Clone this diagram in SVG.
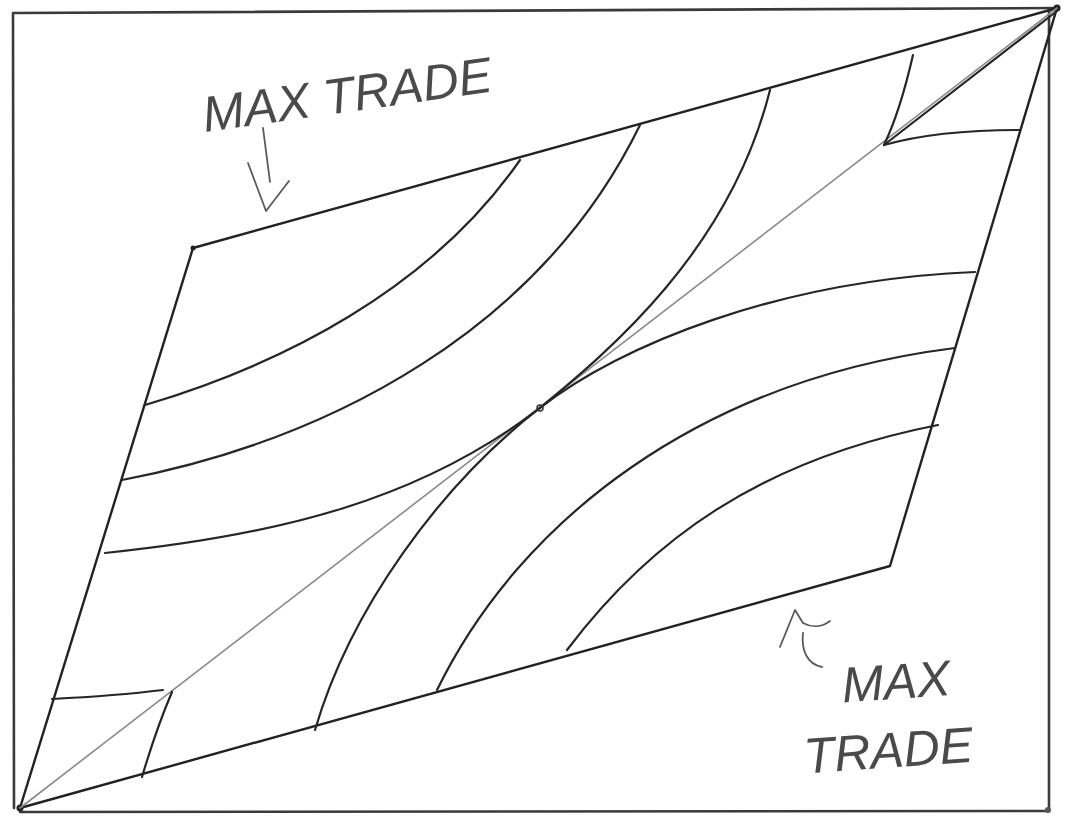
<svg xmlns="http://www.w3.org/2000/svg" width="1067" height="823" viewBox="0 0 1067 823">
<style>
.frame{fill:none;stroke:#3a3a3a;stroke-width:2.6;stroke-linecap:round}
.edge{fill:none;stroke:#222;stroke-width:2.4;stroke-linecap:round;stroke-linejoin:round}
.curve{fill:none;stroke:#262626;stroke-width:2.2;stroke-linecap:round}
.diag{fill:none;stroke:#8a8a8a;stroke-width:1.6;stroke-linecap:round}
.pencil{fill:none;stroke:#5a5a5a;stroke-width:1.8;stroke-linecap:round;stroke-linejoin:round}
.hand{font-family:"Liberation Sans",Arial,sans-serif;font-style:italic;fill:#4a4a4a;font-weight:normal}
</style>
<rect width="1067" height="823" fill="#ffffff"/>
<g id="frame">
<path class="frame" d="M13,13 L1057,8 M13,13 L14,808 M20,812 L1048,811 M1049,10 L1049,808"/>
<circle cx="1048" cy="810" r="3" fill="#555"/>
</g>
<g id="box">
<path class="edge" d="M20,808 L193,248 L1057,8 L890,566 Z"/>
<circle cx="20" cy="808" r="3.5" fill="#222"/>
<circle cx="1057" cy="8" r="3.5" fill="#222"/>
<circle cx="193" cy="248" r="2.5" fill="#222"/>
</g>
<g id="connectors">
<path class="diag" d="M20,808 L1057,8"/>
<path class="curve" d="M1057,11 L884,145"/>
<path class="curve" d="M145,405 C280,365 430,290 520,160"/>
<path class="curve" d="M122,480 C330,440 540,330 640,125"/>
<path class="curve" d="M105,553 C280,535 420,500 540,408 C610,350 730,250 770,90"/>
<path class="curve" d="M913,55 C905,90 896,120 884,145"/>
<path class="curve" d="M567,650 C650,540 760,460 938,425"/>
<path class="curve" d="M437,690 C520,520 700,380 955,348"/>
<path class="curve" d="M315,730 C350,610 440,485 540,408 C620,345 780,280 975,272"/>
<path class="curve" d="M884,145 C930,132 980,130 1020,130"/>
<path class="curve" d="M52,699 C90,697 130,694 163,690"/>
<path class="curve" d="M172,692 C160,720 150,750 142,777"/>
<circle cx="540" cy="408" r="3" fill="none" stroke="#333" stroke-width="1.5"/>
</g>
<g id="label-top">
<text class="hand" x="205" y="132" font-size="50" transform="rotate(-8 205 132)">MAX TRADE</text>
<path class="pencil" d="M263,128 L270,182 M248,163 L266,211 L289,181"/>
</g>
<g id="label-bottom">
<path class="pencil" d="M780,647 L795,610 L803,623 C812,628 822,627 830,621 M803,633 C801,650 807,664 822,667"/>
<text class="hand" font-size="50" transform="rotate(-4 880 700)"><tspan x="843" y="700">MAX</tspan><tspan x="800" y="768">TRADE</tspan></text>
</g>
</svg>
